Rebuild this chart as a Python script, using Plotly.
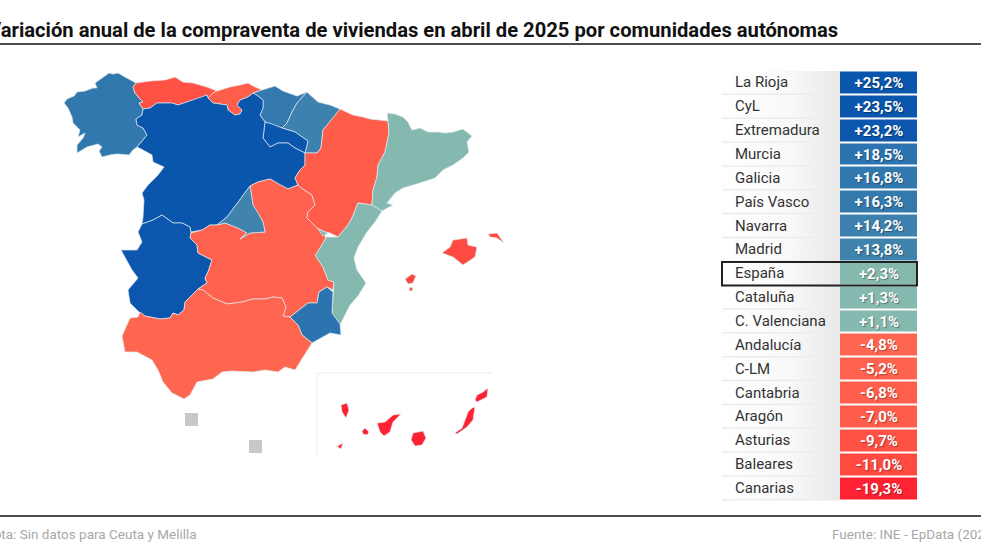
import plotly.graph_objects as go

# Tabla: comunidades ordenadas por variacion anual
regiones = ["La Rioja", "CyL", "Extremadura", "Murcia", "Galicia", "País Vasco", "Navarra", "Madrid", "España",
            "Cataluña", "C. Valenciana", "Andalucía", "C-LM", "Cantabria", "Aragón", "Asturias", "Baleares", "Canarias"]
valores = [25.2, 23.5, 23.2, 18.5, 16.8, 16.3, 14.2, 13.8, 2.3, 1.3, 1.1, -4.8, -5.2, -6.8, -7.0, -9.7, -11.0, -19.3]
etiquetas = ["+25,2%", "+23,5%", "+23,2%", "+18,5%", "+16,8%", "+16,3%", "+14,2%", "+13,8%", "+2,3%",
             "+1,3%", "+1,1%", "-4,8%", "-5,2%", "-6,8%", "-7,0%", "-9,7%", "-11,0%", "-19,3%"]
colores = ["#0b56ad", "#0b56ad", "#0c57ad", "#2b74b0", "#3078ae", "#3479ae", "#3d81ae", "#4083ad", "#86b9ae",
           "#85b8ae", "#85b8ae", "#ff6650", "#ff624e", "#ff5e4b", "#ff5c4a", "#ff5144", "#ff4a41", "#ff2233"]

# Contornos del mapa
galicia = [(64,103),(67,99),(74,96),(77,92),(85,91),(93,88),(97,88),(95,83),(102,78),(107,75),(109,73),(113,74),(118,73),(125,77),(133,82),(136,83),
           (133,87),(135,93),(140,99),(143,102),(139,103),(143,109),(142,115),(136,119),(137,125),(143,128),(147,135),(143,140),(137,147),(133,150),(129,155),
           (117,154),(110,155),(102,157),(99,151),(102,147),(98,144),(87,147),(77,153),(77,145),(83,138),(85,133),(78,137),(80,130),(73,123),(72,117),(68,108)]
asturias = [(136,83),(150,81),(165,80),(175,77),(183,82),(193,83),(207,87),(217,91),(213,93),(208,98),(207,95),(197,99),(187,102),(178,105),(172,103),
            (165,103),(157,103),(150,108),(143,109),(139,103),(143,102),(140,99),(135,93),(133,87)]
cantabria = [(217,91),(230,87),(240,85),(248,83),(253,86),(262,90),(253,93),(248,97),(240,100),(237,105),(242,110),(240,114),(235,115),(228,110),(227,105),(213,103),(208,98),(213,93)]
pais_vasco = [(262,90),(275,86),(283,91),(297,96),(307,92),(297,103),(292,112),(287,123),(282,128),(272,124),(265,122),(260,115),(263,108),(263,100),(258,96),(253,93)]
navarra = [(307,92),(318,102),(330,105),(340,109),(333,118),(323,130),(321,148),(317,153),(305,153),(308,141),(295,132),(282,128),(287,123),(292,112),(297,103)]
la_rioja = [(265,122),(272,124),(282,128),(295,132),(308,141),(305,153),(295,148),(288,143),(278,143),(270,147),(263,138)]
cyl = [(143,109),(150,108),(157,103),(165,103),(172,103),(178,105),(187,102),(197,99),(207,95),(208,98),(213,103),(227,105),(228,110),(235,115),(240,114),(242,110),
       (237,105),(240,100),(248,97),(253,93),(258,96),(263,100),(263,108),(260,115),(265,122),(263,138),(270,147),(278,143),(288,143),(295,148),(305,153),(305,165),
       (300,170),(295,178),(298,185),(288,189),(280,185),(270,179),(258,182),(250,186),(237,203),(227,217),(217,225),(210,225),(202,230),(191,232),(190,227),(182,223),
       (173,223),(162,215),(153,220),(142,224),(143,217),(144,200),(142,193),(148,185),(158,175),(164,167),(153,162),(152,155),(143,150),(137,147),(143,140),(147,135),
       (143,128),(137,125),(136,119),(142,115)]
madrid = [(250,186),(237,203),(227,217),(217,225),(225,223),(238,228),(247,233),(240,239),(250,233),(265,232),(263,222),(258,213),(253,205)]
extremadura = [(142,224),(153,220),(162,215),(173,223),(182,223),(190,227),(191,233),(190,238),(197,245),(198,253),(212,260),(208,272),(205,278),(207,283),(198,289),
               (185,302),(184,310),(178,315),(173,313),(170,318),(160,319),(152,317),(145,316),(139,312),(130,303),(128,290),(138,278),(132,270),(125,257),(121,250),(137,250),(142,242),(138,232)]
clm = [(191,233),(202,230),(210,225),(217,225),(225,223),(238,228),(247,233),(240,239),(250,233),(265,232),(263,222),(258,213),(253,205),(250,186),(258,182),(270,179),(280,185),(288,189),
       (298,185),(300,187),(312,195),(315,205),(308,212),(307,218),(317,228),(325,232),(325,237),(326,238),(317,253),(315,255),(323,267),(328,280),(334,282),(333,290),(327,287),(319,292),
       (317,303),(308,303),(290,317),(283,316),(286,307),(282,298),(273,297),(265,299),(253,299),(242,302),(227,304),(213,298),(203,290),(198,289),(207,283),(205,278),(208,272),(212,260),
       (198,253),(197,245),(190,238)]
aragon = [(340,109),(353,115),(363,117),(370,119),(388,121),(389,133),(385,152),(378,165),(377,177),(373,190),(372,205),(358,203),(352,218),(348,225),(338,237),(330,233),(325,232),(317,228),
          (307,218),(308,212),(315,205),(312,195),(300,187),(298,185),(295,178),(300,170),(305,165),(305,153),(317,153),(321,148),(323,130),(333,118)]
cataluna = [(387,113),(395,114),(403,117),(408,122),(412,130),(420,128),(428,132),(438,132),(445,133),(453,132),(463,129),(472,136),(467,142),(469,152),(463,158),(453,165),(443,170),(435,178),
            (420,183),(403,188),(395,193),(387,203),(393,205),(382,211),(372,205),(373,190),(377,177),(378,165),(385,152),(389,133),(388,121)]
valencia = [(358,203),(372,205),(382,211),(375,222),(367,232),(358,247),(354,258),(357,270),(366,283),(358,296),(350,305),(344,317),(340,325),(332,313),(333,290),(334,282),(328,280),(323,267),
            (315,255),(317,253),(326,238),(325,237),(338,237),(348,225),(352,218)]
ademuz = [(318,229),(328,233),(323,236)]
murcia = [(319,292),(327,287),(333,292),(332,313),(340,324),(341,335),(330,333),(312,343),(302,335),(298,325),(290,317),(308,303),(317,303)]
andalucia = [(198,289),(185,302),(184,310),(178,315),(173,313),(170,318),(160,319),(152,317),(145,316),(140,312),(138,317),(130,318),(122,336),(125,352),(137,352),(152,360),(158,370),(163,382),
             (172,393),(184,399),(190,395),(197,382),(213,379),(222,372),(232,371),(253,372),(265,370),(278,372),(285,367),(295,370),(303,357),(312,343),(302,335),(298,325),(290,317),(283,316),
             (286,307),(282,298),(273,297),(265,299),(253,299),(242,302),(227,304),(213,298),(203,290)]
mallorca = [(442,253),(450,247),(453,240),(467,238),(468,245),(477,247),(475,257),(463,265),(453,257)]
menorca = [(488,234),(497,233),(504,243),(497,238),(490,237)]
ibiza = [(405,279),(412,274),(416,276),(413,283),(408,284)]
formentera = [(410,287),(413,288),(412,291),(409,291)]
la_palma = [(341,405),(347,403),(349,410),(346,418),(342,412)]
la_gomera = [(362,431),(365,428),(369,432),(367,435),(363,434)]
el_hierro = [(336,447),(342,443),(343,443),(341,449),(338,447)]
tenerife = [(377,423),(385,422),(393,415),(401,414),(393,422),(390,432),(384,436),(380,432)]
gran_canaria = [(413,433),(423,431),(426,438),(422,445),(415,446),(411,440)]
fuerteventura = [(472,408),(475,407),(473,420),(467,427),(457,434),(455,433),(462,428),(465,420),(468,412)]
lanzarote = [(477,395),(483,392),(488,388),(487,397),(477,402),(475,400)]

contornos = {
    "Galicia": [galicia], "Asturias": [asturias], "Cantabria": [cantabria], "País Vasco": [pais_vasco],
    "Navarra": [navarra], "La Rioja": [la_rioja], "CyL": [cyl], "Extremadura": [extremadura],
    "C-LM": [clm], "Madrid": [madrid], "Aragón": [aragon], "Cataluña": [cataluna],
    "C. Valenciana": [valencia, ademuz], "Murcia": [murcia], "Andalucía": [andalucia],
    "Baleares": [mallorca, menorca, ibiza, formentera],
    "Canarias": [la_palma, la_gomera, el_hierro, tenerife, gran_canaria, fuerteventura, lanzarote],
}
sin_datos = ["Ceuta", "Melilla"]
sin_datos_x = [191.5, 255.5]
sin_datos_y = [419.5, 446.5]

W, H = 981, 560
color_de = dict(zip(regiones, colores))

fig = go.Figure()

# fondo en degradado de la columna de nombres
fig.add_trace(go.Scatter(x=[722, 840, 840, 722, 722], y=[71, 71, 500, 500, 71], mode="lines", line_width=0,
                         fill="toself", fillgradient=dict(type="horizontal", colorscale=[[0, "#ffffff"], [0.55, "#f9f9f9"], [1, "#e8e8e8"]]),
                         hoverinfo="skip", showlegend=False))

for nombre, partes in contornos.items():
    xs, ys = [], []
    for parte in partes:
        xs += [p[0] for p in parte] + [parte[0][0], None]
        ys += [p[1] for p in parte] + [parte[0][1], None]
    fig.add_trace(go.Scatter(x=xs, y=ys, mode="lines", fill="toself", fillcolor=color_de[nombre],
                             line=dict(color="rgba(225,235,240,0.85)", width=0.8), name=nombre, showlegend=False))

fig.add_trace(go.Scatter(x=sin_datos_x, y=sin_datos_y, text=sin_datos, mode="markers",
                         marker=dict(symbol="square", size=13, color="#c8c8c8"), showlegend=False))

# la escala de color pasa por el color de cada valor
vmin, vmax = min(valores), max(valores)
escala = sorted(((v - vmin) / (vmax - vmin), c) for v, c in zip(valores, colores))
fig.add_trace(go.Heatmap(z=[[v] for v in valores], x=["valor"], y=regiones, text=[[e] for e in etiquetas],
                         texttemplate="%{text}", colorscale=[list(e) for e in escala], showscale=False, ygap=2,
                         textfont=dict(family="Roboto", size=15, color="white", weight=700,
                                       shadow="1px 1px 1px rgba(0,0,0,0.35)"),
                         xaxis="x2", yaxis="y2"))
fig.add_trace(go.Scatter(x=[13] * len(regiones), y=regiones, text=regiones, mode="text", textposition="middle right",
                         textfont=dict(family="Roboto", size=15, color="#333333"), xaxis="x3", yaxis="y3",
                         hoverinfo="skip", showlegend=False))

shapes = [
    dict(type="line", xref="x", yref="y", x0=0, x1=W, y0=44, y1=44, line=dict(color="#111111", width=1.6)),
    dict(type="line", xref="x", yref="y", x0=0, x1=W, y0=516, y1=516, line=dict(color="#111111", width=1.6)),
    dict(type="line", xref="x", yref="y", x0=317, x1=317, y0=373, y1=457, line=dict(color="#ececec", width=1)),
    dict(type="line", xref="x", yref="y", x0=317, x1=492, y0=373, y1=373, line=dict(color="#ececec", width=1)),
]
for i in range(1, len(regiones) + 1):
    y_fila = 70.5 + 23.85 * i
    shapes.append(dict(type="line", xref="x", yref="y", x0=722, x1=840, y0=y_fila, y1=y_fila, line=dict(color="#ececec", width=1.5)))
shapes.append(dict(type="rect", xref="x", yref="y", x0=722, x1=917, y0=262, y1=285.5, line=dict(color="#222222", width=2)))

annotations = [
    dict(text="<b>Variación anual de la compraventa de viviendas en abril de 2025 por comunidades autónomas</b>",
         x=-14 / W, y=1 - 30 / H, xanchor="left", yanchor="middle", font=dict(family="Roboto", size=20.2, color="#111111")),
    dict(text="Nota: Sin datos para Ceuta y Melilla", x=-18 / W, y=1 - 534 / H, xanchor="left", yanchor="middle",
         font=dict(family="Roboto", size=13.5, color="#a8a8a8")),
    dict(text="Fuente: INE - EpData (2025)", x=830 / W, y=1 - 534 / H, xanchor="left", yanchor="middle",
         font=dict(family="Roboto", size=13.5, color="#a8a8a8")),
]
for a in annotations:
    a.update(xref="paper", yref="paper", showarrow=False)

oculto = dict(visible=False, showgrid=False, zeroline=False, fixedrange=True)
fig.update_layout(
    width=W, height=H, margin=dict(l=0, r=0, t=0, b=0), paper_bgcolor="white", plot_bgcolor="rgba(0,0,0,0)",
    showlegend=False, shapes=shapes, annotations=annotations,
    xaxis=dict(range=[0, W], domain=[0, 1], **oculto),
    yaxis=dict(range=[H, 0], domain=[0, 1], **oculto),
    xaxis2=dict(domain=[840 / W, 917 / W], anchor="y2", range=[-0.5, 0.5], type="category", **oculto),
    yaxis2=dict(domain=[1 - 500 / H, 1 - 70.5 / H], anchor="x2", type="category", categoryorder="array",
                categoryarray=regiones, range=[len(regiones) - 0.5, -0.5], **oculto),
    xaxis3=dict(domain=[722 / W, 840 / W], anchor="y3", range=[0, 118], **oculto),
    # nombres un poco mas abajo que los valores
    yaxis3=dict(domain=[1 - 501.2 / H, 1 - 71.7 / H], anchor="x3", type="category", categoryorder="array",
                categoryarray=regiones, range=[len(regiones) - 0.5, -0.5], **oculto),
)

# sin margen de pagina, para que las lineas lleguen al borde
fig.write_html("out.html", config={"displayModeBar": False},
               post_script="document.body.style.margin='0';document.body.style.overflow='hidden';")
